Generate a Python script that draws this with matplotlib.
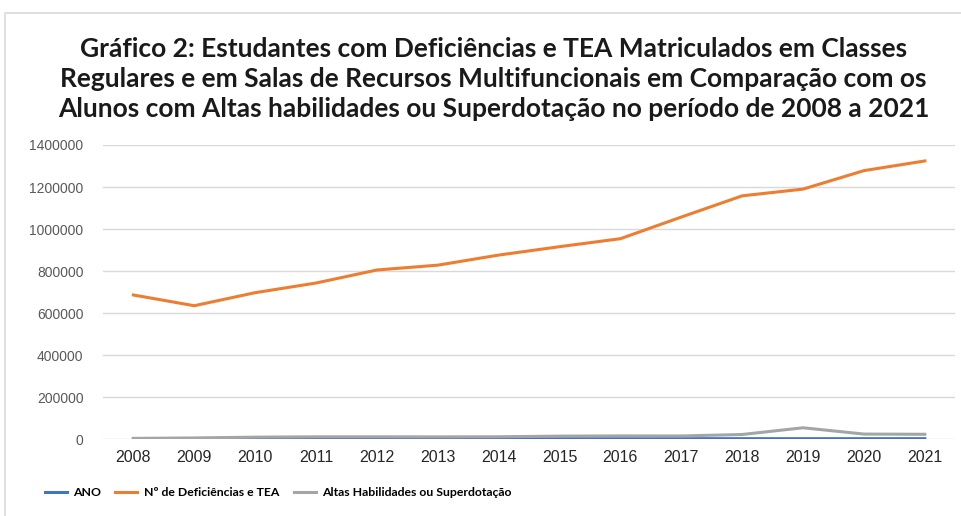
import matplotlib.pyplot as plt
from matplotlib.patches import Rectangle
from matplotlib.ticker import FuncFormatter

anos = [2008, 2009, 2010, 2011, 2012, 2013, 2014, 2015, 2016, 2017, 2018, 2019, 2020, 2021]

# valores
deficiencias_tea = [686000, 635000, 697000, 743000, 805000, 828000, 876000,
                    916000, 954000, 1057000, 1158000, 1190000, 1278000, 1324000]
altas_habilidades = [3500, 5600, 9300, 11000, 11000, 10700, 11200,
                     14200, 15200, 15000, 22000, 54000, 24000, 23000]

titulo = ("Gráfico 2: Estudantes com Deficiências e TEA Matriculados em Classes\n"
          "Regulares e em Salas de Recursos Multifuncionais em Comparação com os\n"
          "Alunos com Altas habilidades ou Superdotação no período de 2008 a 2021")

plt.rcParams['font.family'] = ['Liberation Sans', 'DejaVu Sans']

fig = plt.figure(figsize=(9.62, 5.16), dpi=100)
fig.patches.append(Rectangle((0.005, -0.01), 1.0, 0.985, transform=fig.transFigure,
                             fill=False, edgecolor='#d9d9d9', linewidth=1.2))

ax = fig.add_axes([0.107, 0.149, 0.886, 0.570])
x = list(range(len(anos)))

ax.plot(x, anos, color='#4472c4', linewidth=2.2, label='ANO')
ax.plot(x, deficiencias_tea, color='#ed7d31', linewidth=2.2, label='Nº de Deficiências e TEA')
ax.plot(x, altas_habilidades, color='#a5a5a5', linewidth=2.2,
        label='Altas Habilidades ou Superdotação')

ax.set_xlim(-0.5, len(anos) - 0.5)
ax.set_ylim(0, 1400000)
ax.set_yticks(range(0, 1400001, 200000))
ax.yaxis.set_major_formatter(FuncFormatter(lambda v, p: f"{int(v)}"))
ax.set_xticks(x)
ax.set_xticklabels([str(a) for a in anos])
ax.grid(axis='y', color='#d9d9d9', linewidth=1)
ax.set_axisbelow(True)
for s in ax.spines.values():
    s.set_visible(False)
ax.tick_params(axis='both', length=0)
ax.tick_params(axis='y', labelsize=10, labelcolor='#595959', pad=14)
ax.tick_params(axis='x', labelsize=11.5, labelcolor='#262626', pad=8)

fig.text(0.513, 0.846, titulo, ha='center', va='center', fontsize=19,
         fontweight='bold', linespacing=1.3,
         family=['Lato', 'DejaVu Sans'], color='#1a1a1a')

leg = fig.legend(loc='center left', bbox_to_anchor=(0.035, 0.045), ncol=3, frameon=False,
                 prop={'family': ['Lato', 'DejaVu Sans'],
                       'weight': 'bold', 'size': 8.8},
                 handlelength=1.8, handletextpad=0.5, columnspacing=1.2)

fig.savefig('out.png', dpi=100, facecolor='white')
